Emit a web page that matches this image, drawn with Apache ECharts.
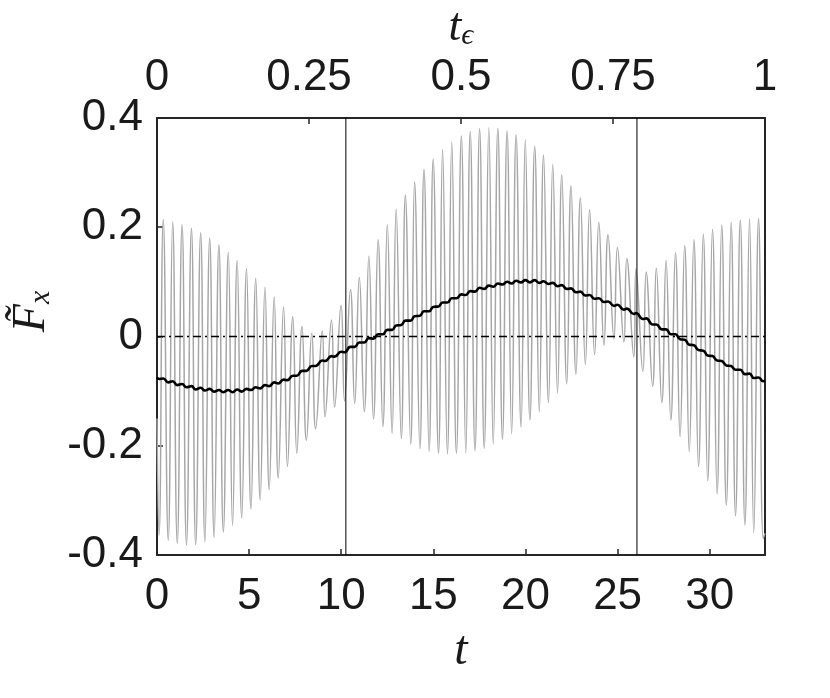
<!DOCTYPE html>
<html>
<head>
<meta charset="utf-8">
<script src="https://cdn.jsdelivr.net/npm/echarts@6/dist/echarts.min.js"></script>
<style>
html, body { margin: 0; padding: 0; background: #fff; }
#chart { width: 830px; height: 698px; }
</style>
</head>
<body>
<div id="chart"></div>
<script>
// grey force signal: its maxima and minima
const tPeak = [0.34, 0.85, 1.36, 1.87, 2.37, 2.86, 3.36, 3.87, 4.35, 4.86, 5.36,
  5.86, 6.36, 6.87, 7.37, 7.87, 8.4, 8.97, 9.47, 9.99, 10.5, 10.98,
  11.5, 12.0, 12.5, 12.98, 13.48, 13.98, 14.49, 14.99, 15.5, 16.0,
  16.52, 17.0, 17.51, 18.01, 18.5, 19.0, 19.49, 19.99, 20.5, 20.98, 21.48,
  21.97, 22.47, 22.98, 23.48, 23.98, 24.48, 24.99, 25.5, 26.0,
  26.55, 27.1, 27.63, 28.14, 28.64, 29.14, 29.65, 30.15, 30.65, 31.16, 31.66, 32.16, 32.65]
const fPeak = [0.214, 0.210, 0.205, 0.198, 0.190, 0.180, 0.168, 0.154, 0.139, 0.124, 0.106,
  0.090, 0.072, 0.054, 0.036, 0.018, 0.006, 0.010, 0.030, 0.057, 0.086, 0.108,
  0.147, 0.177, 0.205, 0.233, 0.259, 0.283, 0.306, 0.325, 0.342, 0.356,
  0.367, 0.375, 0.380, 0.382, 0.381, 0.376, 0.369, 0.360, 0.348, 0.332, 0.315,
  0.296, 0.276, 0.254, 0.232, 0.209, 0.186, 0.163, 0.142, 0.124,
  0.118, 0.125, 0.139, 0.153, 0.166, 0.177, 0.187, 0.196, 0.204, 0.209, 0.213, 0.215, 0.216]
const tTrough = [0.11, 0.61, 1.1, 1.6, 2.1, 2.6, 3.1, 3.6, 4.1, 4.6, 5.1, 5.6,
  6.09, 6.58, 7.08, 7.59, 8.11, 8.61, 9.12, 9.64, 10.18,
  10.73, 11.25, 11.75, 12.26, 12.76, 13.26, 13.77, 14.27, 14.77, 15.28, 15.76, 16.25,
  16.76, 17.26, 17.76, 18.25, 18.75, 19.25, 19.76, 20.24, 20.75, 21.25,
  21.74, 22.24, 22.74, 23.25, 23.75, 24.26, 24.8, 25.34, 25.88,
  26.37, 26.9, 27.4, 27.89, 28.39, 28.89, 29.39, 29.89, 30.4, 30.9, 31.4, 31.91, 32.39, 32.9]
const fTrough = [-0.364, -0.373, -0.379, -0.382, -0.381, -0.376, -0.368, -0.358, -0.346, -0.332, -0.316, -0.299,
  -0.280, -0.259, -0.238, -0.214, -0.190, -0.169, -0.147, -0.129, -0.118,
  -0.123, -0.138, -0.151, -0.165, -0.177, -0.187, -0.197, -0.205, -0.210, -0.214, -0.215, -0.214,
  -0.213, -0.209, -0.205, -0.197, -0.188, -0.178, -0.166, -0.153, -0.138, -0.121,
  -0.103, -0.087, -0.069, -0.051, -0.033, -0.016, -0.004, -0.010, -0.037,
  -0.064, -0.091, -0.121, -0.153, -0.183, -0.211, -0.238, -0.264, -0.288, -0.309, -0.328, -0.345, -0.359, -0.370]

// black averaged force, read at the same instants (it wiggles slightly with the signal)
const fMeanAtPeak = [-0.077, -0.082, -0.087, -0.091, -0.094, -0.096, -0.098, -0.098, -0.097, -0.096, -0.093,
  -0.089, -0.084, -0.079, -0.072, -0.063, -0.054, -0.044, -0.036, -0.028, -0.019, -0.011,
  -0.003, 0.004, 0.012, 0.020, 0.029, 0.037, 0.046, 0.054, 0.062, 0.070,
  0.077, 0.083, 0.089, 0.093, 0.097, 0.100, 0.102, 0.103, 0.103, 0.101, 0.098,
  0.094, 0.088, 0.082, 0.076, 0.070, 0.064, 0.058, 0.051, 0.043,
  0.033, 0.022, 0.013, 0.004, -0.006, -0.016, -0.026, -0.036, -0.045, -0.054, -0.061, -0.068, -0.075]
const fMeanAtTrough = [-0.078, -0.084, -0.089, -0.093, -0.097, -0.099, -0.101, -0.102, -0.102, -0.101, -0.098, -0.095,
  -0.091, -0.086, -0.080, -0.072, -0.063, -0.054, -0.045, -0.037, -0.029,
  -0.019, -0.011, -0.004, 0.004, 0.012, 0.021, 0.029, 0.038, 0.046, 0.055, 0.062, 0.070,
  0.076, 0.082, 0.087, 0.091, 0.095, 0.097, 0.099, 0.099, 0.098, 0.096,
  0.092, 0.087, 0.081, 0.075, 0.069, 0.063, 0.056, 0.049, 0.041,
  0.032, 0.022, 0.013, 0.004, -0.005, -0.015, -0.025, -0.035, -0.044, -0.053, -0.061, -0.069, -0.076, -0.082]

// both curves at the two ends of the window
const tEdge = [0, 33]
const fEdge = [-0.15, -0.36]
const fMeanEdge = [-0.075, -0.081]

// vertical marker lines (in t) and the dash-dot zero level
const tMarks = [10.25, 26.05]
const zeroLevel = 0

const tLabels = ['0', '5', '10', '15', '20', '25', '30']
const tEpsLabels = ['0', '0.25', '0.5', '0.75', '1']
const fLabels = ['-0.4', '-0.2', '0', '0.2', '0.4']

const T_MAX = 33
const F_MIN = -0.4
const F_MAX = 0.4

// merge samples into time-ordered polylines
function merge(pairs) {
    const out = []
    pairs.forEach(([ts, vs]) => ts.forEach((t, i) => out.push([t, vs[i]])))
    return out.sort((a, b) => a[0] - b[0])
}
const greyData = merge([[tPeak, fPeak], [tTrough, fTrough], [tEdge, fEdge]])
const meanData = merge([[tPeak, fMeanAtPeak], [tTrough, fMeanAtTrough], [tEdge, fMeanEdge]])

const axisColor = '#262626'
const labelFont = {
    fontFamily: 'Liberation Sans, Arial, sans-serif',
    fontSize: 44,
    color: '#1a1a1a'
}
const mathFont = 'Liberation Serif, DejaVu Serif, serif'

const chart = echarts.init(document.getElementById('chart'), null, { renderer: 'canvas' })

const markSeries = tMarks.map(t => ({
    type: 'line',
    xAxisIndex: 0,
    yAxisIndex: 0,
    data: [[t, F_MIN], [t, F_MAX]],
    showSymbol: false,
    lineStyle: { color: '#000', width: 1 },
    z: 5
}))

chart.setOption({
    animation: false,
    grid: { left: 157, right: 65, top: 110, bottom: 143, containLabel: false },
    xAxis: [
        {
            type: 'value',
            position: 'bottom',
            min: 0,
            max: T_MAX,
            interval: 5,
            splitLine: { show: false },
            axisLine: { show: true, onZero: false, lineStyle: { color: axisColor, width: 2 } },
            axisTick: { inside: true, length: 6, lineStyle: { color: axisColor, width: 1.5 } },
            axisLabel: Object.assign({
                margin: 20,
                showMaxLabel: false,
                formatter: v => tLabels.indexOf(String(v)) >= 0 ? String(v) : ''
            }, labelFont),
            name: 't',
            nameLocation: 'middle',
            nameGap: 72,
            nameTextStyle: { fontFamily: mathFont, fontStyle: 'italic', fontSize: 48, color: '#1a1a1a' }
        },
        {
            type: 'value',
            position: 'top',
            min: 0,
            max: 1,
            interval: 0.25,
            splitLine: { show: false },
            axisLine: { show: true, onZero: false, lineStyle: { color: axisColor, width: 2 } },
            axisTick: { inside: true, length: 6, lineStyle: { color: axisColor, width: 1.5 } },
            axisLabel: Object.assign({
                margin: 18,
                formatter: v => tEpsLabels.indexOf(String(v)) >= 0 ? String(v) : ''
            }, labelFont),
            name: '{t|t}{s|ϵ}',
            nameLocation: 'middle',
            nameGap: 62,
            nameTextStyle: {
                rich: {
                    t: { fontFamily: mathFont, fontStyle: 'italic', fontSize: 46, color: '#1a1a1a' },
                    s: { fontFamily: mathFont, fontStyle: 'italic', fontSize: 30, color: '#1a1a1a', verticalAlign: 'bottom', padding: [16, 0, 0, 0] }
                }
            }
        }
    ],
    yAxis: [
        {
            type: 'value',
            position: 'left',
            min: F_MIN,
            max: F_MAX,
            interval: 0.2,
            splitLine: { show: false },
            axisLine: { show: true, onZero: false, lineStyle: { color: axisColor, width: 2 } },
            axisTick: { inside: true, length: 6, lineStyle: { color: axisColor, width: 1.5 } },
            axisLabel: Object.assign({
                margin: 14,
                formatter: v => {
                    const s = String(Math.round(v * 10) / 10)
                    return fLabels.indexOf(s) >= 0 ? s : ''
                }
            }, labelFont),
            name: '{f|F̃}{s|x}',
            nameLocation: 'middle',
            nameRotate: 90,
            nameGap: 100,
            nameTextStyle: {
                padding: [0, 0, 0, 50],
                rich: {
                    f: { fontFamily: mathFont, fontStyle: 'italic', fontSize: 46, color: '#1a1a1a' },
                    s: { fontFamily: mathFont, fontStyle: 'italic', fontSize: 30, color: '#1a1a1a', verticalAlign: 'bottom', padding: [18, 0, 0, 0] }
                }
            }
        },
        {
            type: 'value',
            position: 'right',
            min: F_MIN,
            max: F_MAX,
            splitLine: { show: false },
            axisLine: { show: true, onZero: false, lineStyle: { color: axisColor, width: 2 } },
            axisTick: { show: false },
            axisLabel: { show: false }
        }
    ],
    series: [
        {
            type: 'line',
            name: 'signal',
            xAxisIndex: 0,
            yAxisIndex: 0,
            data: greyData,
            smooth: 0.5,
            showSymbol: false,
            lineStyle: { color: '#a6a6a6', width: 1.5 },
            z: 2
        },
        {
            type: 'line',
            name: 'zero',
            xAxisIndex: 0,
            yAxisIndex: 0,
            data: [[0, zeroLevel], [T_MAX, zeroLevel]],
            showSymbol: false,
            lineStyle: { color: '#000', width: 1.5, type: [8, 4, 2, 4] },
            z: 3
        },
        {
            type: 'line',
            name: 'mean',
            xAxisIndex: 0,
            yAxisIndex: 0,
            data: meanData,
            smooth: 0.5,
            showSymbol: false,
            lineStyle: { color: '#000', width: 2.6 },
            z: 4
        },
        ...markSeries
    ]
})
</script>
</body>
</html>
